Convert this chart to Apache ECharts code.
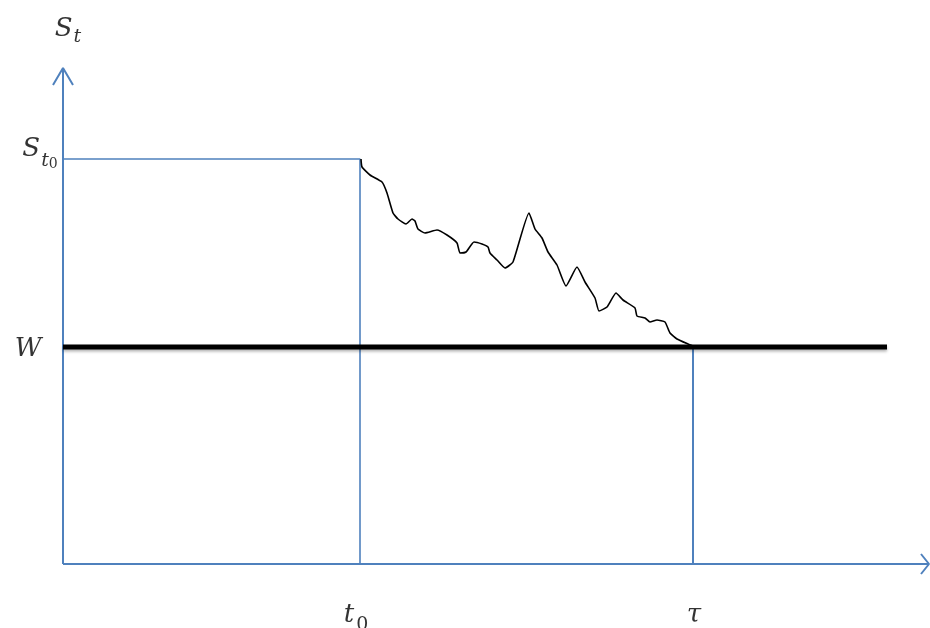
<!DOCTYPE html>
<html>
<head>
<meta charset="utf-8">
<script src="https://cdn.jsdelivr.net/npm/echarts@6/dist/echarts.min.js"></script>
<style>html,body{margin:0;padding:0;background:#fff;}#c{width:930px;height:628px;}</style>
</head>
<body>
<div id="c"></div>
<script>
// Key levels (data units)
var xMax = 865, yMax = 496;
var t0 = 297, tau = 630, wEnd = 824;
var S0 = 405, W = 217;
// Price path S_t from t0 until it hits W at tau
var pathX = [298,299,307,319,324,330,335,343,349,352,355,362,374,384,394,397,403,411,419,425,427,434,442,450,466,472,479,485,494,503,514,522,532,536,544,553,560,572,574,582,587,594,602,607,614,625,630];
var pathY = [405,397,389,382,371,351,345,340,345,343,335,331,334,329,321,311,312,322,320,317,311,304,296,302,351,335,326,312,299,278,297,282,266,253,257,271,264,256,248,246,242,244,242,231,225,220,218];
// Labels
var labelNames = ['S_t', 'S_t0', 'W', 't0', 'tau'];

var blue = '#4F81BD';
var path = pathX.map(function (x, i) { return [x, pathY[i]]; });

function seg(points, color, width) {
  return { type: 'line', data: points, symbol: 'none', silent: true, z: 2, clip: false,
    lineStyle: { color: color, width: width } };
}

var serif = 'DejaVu Serif';
var base = { fontFamily: serif, fontStyle: 'italic', color: '#000' };
function st(o) { var r = {}; for (var k in base) r[k] = base[k]; for (var j in o) r[j] = o[j]; return r; }
var rich = {
  m: st({ fontSize: 26, lineHeight: 30, verticalAlign: 'middle' }),
  s: st({ fontSize: 19, lineHeight: 36, verticalAlign: 'bottom', padding: [0, 0, 0, 1] }),
  s2: st({ fontSize: 19, lineHeight: 44, verticalAlign: 'bottom', padding: [0, 0, 0, 1] }),
  ss: st({ fontSize: 14, fontStyle: 'normal', lineHeight: 44, verticalAlign: 'bottom' }),
  s3: st({ fontSize: 19, fontStyle: 'normal', lineHeight: 40, verticalAlign: 'bottom', padding: [0, 0, 0, 2] })
};
var labelTexts = {
  'S_t': '{m|S}{s|t}',
  'S_t0': '{m|S}{s2|t}{ss|0}',
  'W': '{m|W}',
  't0': '{m|t}{s3|0}',
  'tau': '{m|τ}'
};
var labelPts = [
  { value: [0, yMax], off: [5, -39] },
  { value: [0, S0], off: [-23, -10] },
  { value: [0, W], off: [-35, 2] },
  { value: [t0, 0], off: [-4, 51] },
  { value: [tau, 0], off: [1, 51] }
];

var option = {
  animation: false,
  grid: { left: 0, right: 0, top: 0, bottom: 0 },
  xAxis: { type: 'value', min: -63, max: 867, show: false },
  yAxis: { type: 'value', min: -64, max: 564, show: false },
  series: [
    // axes
    seg([[0, 0], [xMax, 0]], blue, 2),
    seg([[0, 0], [0, yMax]], blue, 2),
    seg([[-10, yMax - 17], [0, yMax], [10, yMax - 17]], blue, 2),
    seg([[xMax - 7, 10], [xMax + 1, 0], [xMax - 7, -10]], blue, 2),
    // guide lines
    seg([[0, S0], [t0, S0], [t0, 0]], blue, 1.6),
    seg([[tau, W], [tau, 0]], blue, 2),
    // barrier W
    { type: 'line', data: [[0, W], [wEnd, W]], symbol: 'none', silent: true, z: 3,
      lineStyle: { color: '#000', width: 5, shadowColor: 'rgba(0,0,0,0.3)', shadowBlur: 3, shadowOffsetY: 2 } },
    // price path
    { type: 'line', data: path, symbol: 'none', smooth: 0.15, silent: true, z: 4,
      lineStyle: { color: '#000', width: 1.6 } },
    // labels
    { type: 'scatter', symbolSize: 0, silent: true, z: 5, clip: false,
      data: labelPts.map(function (p, i) {
        return { value: p.value, label: { show: true, position: 'inside', align: 'center', verticalAlign: 'middle',
          offset: p.off, formatter: labelTexts[labelNames[i]], rich: rich } };
      }) }
  ]
};
echarts.init(document.getElementById('c'), null, { renderer: 'canvas' }).setOption(option);
</script>
</body>
</html>
